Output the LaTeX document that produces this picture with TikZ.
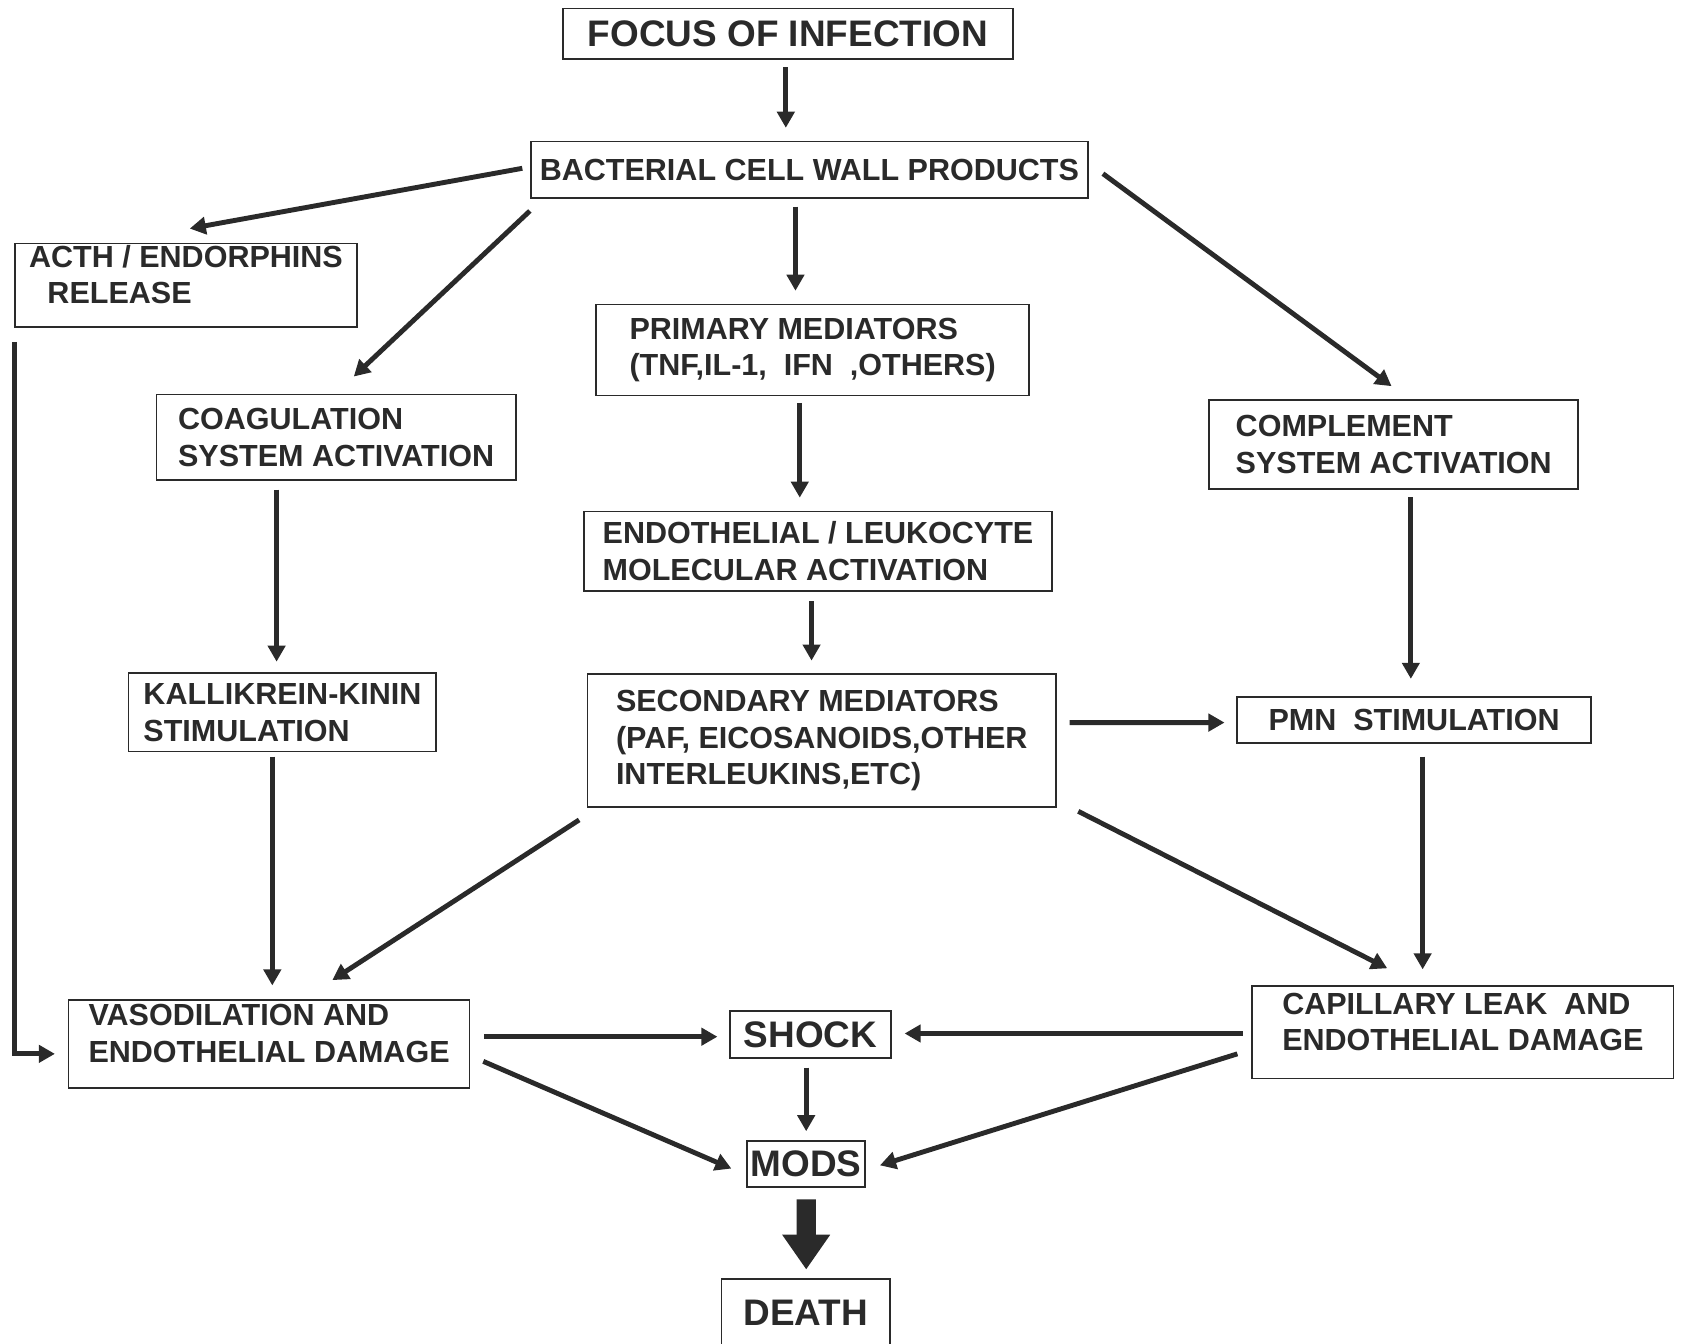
\documentclass[tikz,border=0pt]{standalone}
\usepackage{fontspec}
\setmainfont{Liberation Sans}
\usepackage{tikz}
\usetikzlibrary{arrows.meta}
\definecolor{ink}{HTML}{2A2A2A}
\newcommand{\lbl}{\fontsize{16.2}{19.4}\selectfont\bfseries}
\newcommand{\biglbl}{\fontsize{19.6}{22}\selectfont\bfseries}
\tikzset{
    stage/.style={
    rectangle,draw=ink,line width=0.9pt,inner sep=0pt,align=left,text=ink,font=\lbl
    },
    bigstage/.style={
    stage,font=\biglbl
    },
    wh/.style 2 args={
    minimum width=#1*0.2mm,minimum height=#2*0.2mm
    },
    flow/.style={
    draw=ink,line width=2.6pt,-{Triangle[length=3mm,width=3.2mm]}
    },
    fatflow/.style={
    draw=ink,line width=3.6mm,-{Triangle[length=6.5mm,width=8.5mm]}
    },
}
\begin{document}
\begin{tikzpicture}[x=0.2mm,y=-0.2mm]
   \useasboundingbox (0,0) rectangle (1568,1253);
   \node[bigstage,wh={420}{47}] (focus) at (735,31.5) {FOCUS OF INFECTION};
   \node[stage,wh={520}{53}] (bact) at (755,158.5) {BACTERIAL CELL WALL PRODUCTS};
   \node[stage,wh={319}{78}] (acth) at (173.5,266) {ACTH / ENDORPHINS\\\hspace*{0.6em}RELEASE\\[-8pt]};
   \node[stage,wh={404}{85}] (prim) at (758,326.5) {PRIMARY MEDIATORS\\(TNF,IL-1,\ \ IFN\ \ ,OTHERS)};
   \node[stage,wh={335}{80}] (coag) at (313.5,408) {COAGULATION\\SYSTEM ACTIVATION};
   \node[stage,wh={344}{83}] (compl) at (1300,414.5) {COMPLEMENT\\SYSTEM ACTIVATION};
   \node[stage,wh={436}{74}] (endo) at (763,514) {ENDOTHELIAL / LEUKOCYTE\\MOLECULAR ACTIVATION};
   \node[stage,wh={287}{73}] (kall) at (263.5,664.5) {KALLIKREIN-KININ\\STIMULATION};
   \node[stage,wh={437}{124}] (sec) at (766.5,691) {SECONDARY MEDIATORS\\(PAF, EICOSANOIDS,OTHER\\INTERLEUKINS,ETC)};
   \node[stage,wh={330}{43}] (pmn) at (1319,671.5) {PMN\ \ STIMULATION};
   \node[stage,wh={374}{82}] (vaso) at (251,974) {VASODILATION AND\\ENDOTHELIAL DAMAGE\\[-8pt]};
   \node[bigstage,wh={150}{44}] (shock) at (756,965) {SHOCK};
   \node[stage,wh={393}{86}] (cap) at (1364.5,963) {CAPILLARY LEAK\ \ AND\\ENDOTHELIAL DAMAGE\\[-8pt]};
   \node[bigstage,wh={110}{43}] (mods) at (752,1085.5) {MODS};
   \node[bigstage,wh={157}{64}] (death) at (751.5,1225) {DEATH};

   \draw[flow] ([shift={(-2,7)}]focus.south) -- ([shift={(-22,-12)}]bact.north);
   \draw[flow] ([shift={(-7,-1.5)}]bact.west) -- ([shift={(3.5,-13)}]acth.north);
   \draw[flow] ([shift={(0,11)}]bact.south west) -- ([shift={(16.5,-16)}]coag.north);
   \draw[flow] ([shift={(-13,7)}]bact.south) -- ([shift={(-16,-12)}]prim.north);
   \draw[flow] ([shift={(13,3.5)}]bact.east) -- ([shift={(-2,-12)}]compl.north);
   \draw[flow] ([shift={(-12,6)}]prim.south) -- ([shift={(-17,-12)}]endo.north);
   \draw[flow] ([shift={(-55.5,8)}]coag.south) -- ([shift={(-5.5,-10)}]kall.north);
   \draw[flow] ([shift={(-6,9)}]endo.south) -- ([shift={(-9.5,-12)}]sec.north);
   \draw[flow] ([shift={(16,7)}]compl.south) -- ([shift={(-3,-16)}]pmn.north);
   \draw[flow] ([shift={(12,-17)}]sec.east) -- ([shift={(-11,2.5)}]pmn.west);
   \draw[flow] ([shift={(-9.5,4)}]kall.south) -- ([shift={(3,-13)}]vaso.north);
   \draw[flow] ([shift={(-7,11)}]sec.south west) -- ([shift={(59,-18)}]vaso.north);
   \draw[flow] ([shift={(20,3)}]sec.south east) -- ([shift={(-70.5,-16)}]cap.north);
   \draw[flow] ([shift={(8,12)}]pmn.south) -- ([shift={(-37.5,-15)}]cap.north);
   \draw[flow] ([shift={(0,13)}]acth.south west) |- ([shift={(-12,9)}]vaso.west);
   \draw[flow] ([shift={(13,-7)}]vaso.east) -- ([shift={(-11,2)}]shock.west);
   \draw[flow] ([shift={(-8,1)}]cap.west) -- ([shift={(12,-1)}]shock.east);
   \draw[flow] ([shift={(-4,8)}]shock.south) -- ([shift={(0,-8)}]mods.north);
   \draw[flow] ([shift={(12,16)}]vaso.east) -- ([shift={(-14,4.5)}]mods.west);
   \draw[flow] ([shift={(-13,20)}]cap.west) -- ([shift={(13,1.5)}]mods.east);
   \draw[fatflow] ([shift={(0,11)}]mods.south) -- ([shift={(0.5,-8)}]death.north);
\end{tikzpicture}
\end{document}
